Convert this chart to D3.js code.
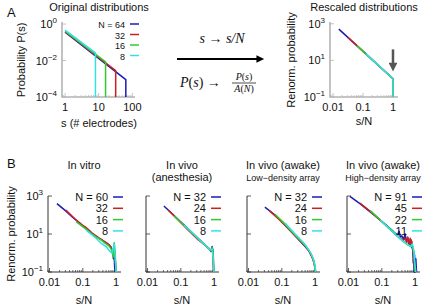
<!DOCTYPE html>
<html>
<head>
<meta charset="utf-8">
<script src="https://cdn.jsdelivr.net/npm/d3@7"></script>
<style>
  body { margin: 0; background: #fff; }
  text { font-family: "Liberation Sans", Arial, sans-serif; fill: #111; }
  .math { font-family: "Liberation Serif", "DejaVu Serif", serif; }
</style>
</head>
<body>
<div id="chart"></div>
<script>

///////////////////////////////////////////////////////////////////////////
///////////////////////////////// Data ////////////////////////////////////
///////////////////////////////////////////////////////////////////////////
var colors = ["#1a1ab8", "#cc1f1f", "#2ecc2e", "#33e0e6"]

// panel A, original distributions : [s, P(s)]
var origN = [64, 32, 16, 8]
var origSeries = [
  [[1, 0.36], [64, 0.0009], [64, 0.0001]],
  [[1, 0.38], [32, 0.0028], [32, 0.0001]],
  [[1, 0.41], [16, 0.0085], [16, 0.0001]],
  [[1, 0.46], [8, 0.026], [8, 0.0001]]
]

// panel A, rescaled : [s/N, P(s)/A(N)]
var rescaledSeries = [
  [[0.0156, 512], [1, 1], [1, 0.1]],
  [[0.03125, 181], [1, 1], [1, 0.1]],
  [[0.0625, 64], [1, 1], [1, 0.1]],
  [[0.125, 22.6], [1, 1], [1, 0.1]]
]

// panel B
var bTitles = [["In vitro"], ["In vivo", "(anesthesia)"], ["In vivo (awake)", "Low\u2212density array"], ["In vivo (awake)", "High\u2212density array"]]
var bN = [[60, 32, 16, 8], [32, 24, 16, 8], [32, 24, 16, 8], [91, 45, 22, 11]]

var inVitro = [
  [[0.0167, 400], [0.03, 170], [0.05, 75], [0.08, 38], [0.1, 27], [0.15, 16], [0.2, 10], [0.3, 6], [0.4, 4.5], [0.5, 3.5], [0.6, 2.8], [0.7, 2.0], [0.75, 1.5], [0.8, 1.0], [0.83, 0.5], [0.85, 2], [0.88, 0.6], [0.9, 0.2], [0.93, 0.1]],
  [[0.031, 180], [0.0625, 55], [0.094, 30], [0.125, 22], [0.156, 15], [0.19, 11], [0.25, 8], [0.31, 6], [0.375, 5], [0.44, 4], [0.5, 3.5], [0.56, 3], [0.625, 2.6], [0.69, 2.2], [0.75, 1.5], [0.81, 1.0], [0.875, 1.5], [0.94, 0.4], [1, 0.1]],
  [[0.0625, 45], [0.125, 18], [0.1875, 10], [0.25, 7], [0.3125, 5.5], [0.375, 4.5], [0.4375, 3.5], [0.5, 3], [0.5625, 2.6], [0.625, 2.2], [0.6875, 1.7], [0.75, 1.3], [0.8125, 0.6], [0.875, 3.5], [0.9375, 1], [1, 0.1]],
  [[0.125, 16], [0.25, 6], [0.375, 3], [0.5, 2.2], [0.625, 1.3], [0.75, 1.0], [0.875, 3], [1, 0.1]]
]
var anesthesia = [
  [[0.031, 300], [0.0625, 95], [0.125, 30], [0.25, 9.5], [0.5, 3], [0.75, 1.5], [0.81, 1.2], [0.875, 2.2], [0.9, 1.5], [0.94, 0.8], [0.97, 0.1]],
  [[0.042, 180], [0.083, 55], [0.167, 16], [0.33, 5], [0.5, 2.8], [0.67, 1.8], [0.79, 1.4], [0.875, 1.8], [0.92, 1.2], [0.96, 0.1]],
  [[0.0625, 90], [0.125, 28], [0.25, 9], [0.5, 2.9], [0.6875, 1.7], [0.8125, 1.3], [0.875, 2], [0.9375, 1], [0.97, 0.1]],
  [[0.125, 29], [0.25, 9.5], [0.375, 4.5], [0.5, 3], [0.625, 2], [0.75, 1.5], [0.875, 1.6], [0.94, 0.5], [1, 0.1]]
]
var awakeLow = [
  [[0.031, 260], [0.0625, 100], [0.125, 30], [0.25, 8], [0.375, 3.8], [0.5, 2.2], [0.625, 1.4], [0.75, 0.8], [0.875, 0.45], [0.94, 0.3], [1.0, 0.15], [1.03, 0.1]],
  [[0.042, 170], [0.083, 58], [0.167, 17], [0.25, 8], [0.33, 4.8], [0.5, 2.3], [0.67, 1.2], [0.83, 0.55], [0.92, 0.3], [1, 0.15], [1.04, 0.1]],
  [[0.0625, 110], [0.125, 33], [0.1875, 15], [0.25, 9], [0.375, 4.3], [0.5, 2.5], [0.625, 1.5], [0.75, 0.9], [0.875, 0.5], [0.94, 0.3], [1, 0.12], [1.03, 0.1]],
  [[0.125, 38], [0.25, 10], [0.375, 4.8], [0.5, 2.8], [0.625, 1.6], [0.75, 0.95], [0.875, 0.5], [1, 0.2], [1.03, 0.1]]
]
var awakeHigh = [
  [[0.011, 950], [0.022, 400], [0.044, 150], [0.088, 55], [0.15, 25], [0.2, 16], [0.25, 11], [0.3, 9], [0.33, 14], [0.36, 7], [0.4, 8], [0.45, 5], [0.5, 10], [0.55, 4], [0.6, 6], [0.65, 3], [0.7, 2.5], [0.75, 5], [0.8, 2], [0.85, 1.5], [0.88, 0.3], [0.9, 1.2], [0.93, 0.1], [0.96, 0.8], [1.0, 0.1], [1.05, 0.5], [1.1, 0.1]],
  [[0.022, 420], [0.044, 160], [0.089, 55], [0.18, 17], [0.27, 9], [0.36, 6], [0.44, 4.5], [0.5, 6], [0.56, 3.5], [0.6, 7], [0.67, 3], [0.71, 6], [0.76, 2.5], [0.8, 4], [0.84, 1.8], [0.89, 1], [0.93, 0.3], [1, 0.1]],
  [[0.045, 170], [0.09, 55], [0.18, 18], [0.27, 9], [0.36, 5.5], [0.45, 4], [0.55, 3], [0.64, 2.5], [0.73, 2.2], [0.82, 2.5], [0.91, 1], [1, 0.1]],
  [[0.09, 55], [0.18, 17], [0.27, 9], [0.36, 5.5], [0.45, 4], [0.55, 3], [0.64, 2.6], [0.73, 2.2], [0.82, 3], [0.91, 1.5], [1, 0.2], [1.05, 0.1]]
]
var bData = [inVitro, anesthesia, awakeLow, awakeHigh]

///////////////////////////////////////////////////////////////////////////
///////////////////////////////// Globals /////////////////////////////////
///////////////////////////////////////////////////////////////////////////
var width = 430, height = 307
var svg = d3.select("#chart").append("svg")
  .attr("width", width)
  .attr("height", height)

svg.append("defs").append("marker")
  .attr("id", "head")
  .attr("viewBox", "0 0 10 10")
  .attr("refX", 2).attr("refY", 5)
  .attr("markerWidth", 4).attr("markerHeight", 3.5)
  .attr("markerUnits", "strokeWidth")
  .attr("orient", "auto")
  .append("path").attr("d", "M0,0L10,5L0,10z").attr("fill", "context-stroke")

///////////////////////////////////////////////////////////////////////////
/////////////////////////////// Panel A ///////////////////////////////////
///////////////////////////////////////////////////////////////////////////
svg.append("text").attr("x", 7).attr("y", 17).style("font-size", "13px").text("A")

var xA = d3.scaleLog().domain([0.81, 120]).range([62, 135])
var yA = d3.scaleLog().domain([1e-4, 1.3]).range([97, 22])
var gA = svg.append("g")
drawAxes(gA, xA, yA, [1, 10, 100], [1, 1e-2, 1e-4], "#b4b4b4", 1.6, true)
drawLines(gA, xA, yA, origSeries)
gA.append("text").attr("x", 99).attr("y", 11).attr("text-anchor", "middle").style("font-size", "11px").text("Original distributions")
gA.append("text").attr("x", 99).attr("y", 127).attr("text-anchor", "middle").style("font-size", "11px").text("s (# electrodes)")
yLabel(gA, 25, 60, "Probability P(s)")
drawLegend(gA, origN, 125, 24, 10.5, 130, 139, "9px")

var xR = d3.scaleLog().domain([0.0079, 1.47]).range([330, 398])
var yR = d3.scaleLog().domain([0.1, 1250]).range([97, 22])
var gR = svg.append("g")
drawAxes(gR, xR, yR, [0.01, 0.1, 1], [1e3, 10, 0.1], "#b4b4b4", 1.6, true)
drawLines(gR, xR, yR, rescaledSeries)
gR.append("text").attr("x", 364).attr("y", 11).attr("text-anchor", "middle").style("font-size", "11px").text("Rescaled distributions")
gR.append("text").attr("x", 364).attr("y", 125).attr("text-anchor", "middle").style("font-size", "11px").text("s/N")
yLabel(gR, 295, 60, "Renorm. probability")
gR.append("line")
  .attr("x1", xR(1)).attr("x2", xR(1))
  .attr("y1", yR(40)).attr("y2", yR(6))
  .attr("stroke", "#555").attr("stroke-width", 2.5)
  .attr("marker-end", "url(#head)")

// the transformation between the two plots
var gM = svg.append("g").attr("class", "math")
var t1 = gM.append("text").attr("class", "math").attr("x", 222).attr("y", 43).attr("text-anchor", "middle").style("font-size", "14px")
t1.append("tspan").style("font-style", "italic").text("s")
t1.append("tspan").text(" \u2192 ")
t1.append("tspan").style("font-style", "italic").text("s/N")
gM.append("line")
  .attr("x1", 177).attr("x2", 258).attr("y1", 59).attr("y2", 59)
  .attr("stroke", "#000").attr("stroke-width", 2.2)
  .attr("marker-end", "url(#head)")
var t2 = gM.append("text").attr("class", "math").attr("x", 180).attr("y", 87).style("font-size", "14px")
t2.append("tspan").style("font-style", "italic").text("P")
t2.append("tspan").text("(")
t2.append("tspan").style("font-style", "italic").text("s")
t2.append("tspan").text(") \u2192")
var frac = [["P", "(", "s", ")"], ["A", "(", "N", ")"]]
frac.forEach(function (parts, i) {
  var t = gM.append("text").attr("class", "math").attr("x", 244).attr("y", i == 0 ? 80 : 92)
    .attr("text-anchor", "middle").style("font-size", "10px")
  parts.forEach(function (p, j) {
    t.append("tspan").style("font-style", j % 2 == 0 ? "italic" : "normal").text(p)
  })
})
gM.append("line").attr("x1", 232).attr("x2", 256).attr("y1", 83).attr("y2", 83).attr("stroke", "#000").attr("stroke-width", 0.7)

///////////////////////////////////////////////////////////////////////////
/////////////////////////////// Panel B ///////////////////////////////////
///////////////////////////////////////////////////////////////////////////
svg.append("text").attr("x", 7).attr("y", 168).style("font-size", "13px").text("B")

var bLeft = [48, 146, 247, 347]
var yB = d3.scaleLog().domain([0.1, 1000]).range([272, 196])

bData.forEach(function (series, k) {
  var x = d3.scaleLog().domain([0.009, 1.4]).range([bLeft[k], bLeft[k] + 73])
  var g = svg.append("g")
  drawAxes(g, x, yB, [0.01, 0.1, 1], [1e3, 10, 0.1], "#333", 1, k == 0)
  drawLines(g, x, yB, series)
  var cx = bLeft[k] + 36
  g.append("text").attr("x", cx).attr("y", 169).attr("text-anchor", "middle").style("font-size", "11px").text(bTitles[k][0])
  if (bTitles[k][1]) {
    g.append("text").attr("x", cx).attr("y", 181).attr("text-anchor", "middle")
      .style("font-size", k == 1 ? "11px" : "9px").text(bTitles[k][1])
  }
  g.append("text").attr("x", cx).attr("y", 304).attr("text-anchor", "middle").style("font-size", "11px").text("s/N")
  var r = bLeft[k] + 73
  drawLegend(g, bN[k], r - 13, 197, 11.3, r - 8, r + 2, "11px")
})
yLabel(svg, 15, 234, "Renorm. probability")

///////////////////////////////////////////////////////////////////////////
/////////////////////////////// Helpers ///////////////////////////////////
///////////////////////////////////////////////////////////////////////////
function drawLines(g, x, y, series) {
  var line = d3.line().x(d => x(d[0])).y(d => y(d[1]))
  g.selectAll("path.series").data(series).enter()
    .append("path")
    .attr("class", "series")
    .attr("d", line)
    .attr("fill", "none")
    .attr("stroke", (d, i) => colors[i])
    .attr("stroke-width", 1.5)
    .attr("stroke-linejoin", "round")
}

function drawLegend(g, ns, textRight, y0, dy, lx1, lx2, fs) {
  ns.forEach(function (n, i) {
    g.append("text").attr("x", textRight).attr("y", y0 + i * dy + 4)
      .attr("text-anchor", "end").style("font-size", fs)
      .text(i == 0 ? "N = " + n : n)
    g.append("line").attr("x1", lx1).attr("x2", lx2)
      .attr("y1", y0 + i * dy).attr("y2", y0 + i * dy)
      .attr("stroke", colors[i]).attr("stroke-width", 1.5)
  })
}

function yLabel(g, x, y, label) {
  g.append("text")
    .attr("transform", "translate(" + x + "," + y + ") rotate(-90)")
    .attr("text-anchor", "middle").style("font-size", "11px")
    .text(label)
}

function drawAxes(g, x, y, xTicks, yTicks, col, sw, yLabels) {
  var x0 = x.range()[0], y0 = y.range()[0]
  // minor ticks on the bottom axis
  var lo = Math.floor(Math.log10(x.domain()[0])), hi = Math.ceil(Math.log10(x.domain()[1]))
  var minor = []
  for (var p = lo; p < hi; p++) for (var m = 2; m < 10; m++) {
    var v = m * Math.pow(10, p)
    if (v > x.domain()[0] && v < x.domain()[1]) minor.push(v)
  }
  g.selectAll("line.minor").data(minor).enter().append("line")
    .attr("x1", d => x(d)).attr("x2", d => x(d))
    .attr("y1", y0).attr("y2", y0 - 2)
    .attr("stroke", col).attr("stroke-width", 0.7)

  g.selectAll("line.xmaj").data(xTicks).enter().append("line")
    .attr("x1", d => x(d)).attr("x2", d => x(d))
    .attr("y1", y0).attr("y2", y0 - 4)
    .attr("stroke", col).attr("stroke-width", 0.8)
  g.selectAll("line.ymaj").data(yTicks).enter().append("line")
    .attr("x1", x0).attr("x2", x0 + 4)
    .attr("y1", d => y(d)).attr("y2", d => y(d))
    .attr("stroke", col).attr("stroke-width", 0.8)

  // border, left and bottom
  g.append("path")
    .attr("d", "M" + x0 + "," + y.range()[1] + "V" + y0 + "H" + x.range()[1])
    .attr("fill", "none").attr("stroke", col).attr("stroke-width", sw)

  g.selectAll("text.xt").data(xTicks).enter().append("text")
    .attr("x", d => x(d)).attr("y", y0 + 14)
    .attr("text-anchor", "middle").style("font-size", "11px")
    .text(d => d3.format("~g")(d))

  if (!yLabels) return
  yTicks.forEach(function (v) {
    var e = Math.round(Math.log10(v))
    var t = g.append("text").attr("x", x0 - 5).attr("y", y(v) + 4)
      .attr("text-anchor", "end").style("font-size", "11px")
    t.append("tspan").text("10")
    t.append("tspan").attr("dy", -5).style("font-size", "8px").text(String(e).replace("-", "\u2212"))
  })
}

</script>
</body>
</html>
